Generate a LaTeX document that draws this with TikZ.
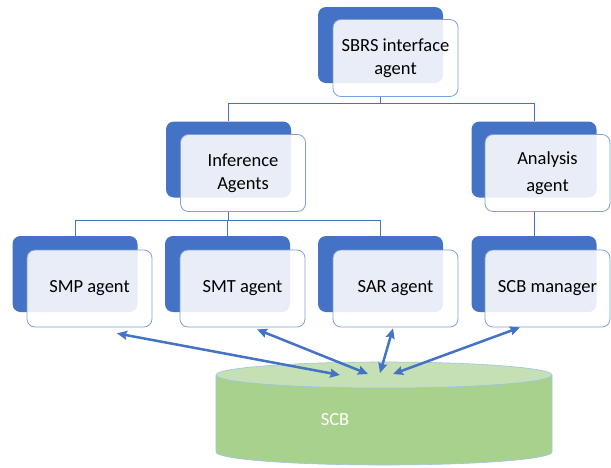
\documentclass[tikz,border=0pt]{standalone}
\usepackage{fontspec}
\setmainfont{Carlito}
\usetikzlibrary{arrows.meta,calc}
\definecolor{agentblue}{HTML}{4472C4}
\definecolor{frameblue}{HTML}{7F9FD6}
\definecolor{cylside}{HTML}{A9D18E}
\definecolor{cyltopc}{HTML}{C5E0B4}
\definecolor{cylline}{HTML}{9DC3E6}
\begin{document}
\begin{tikzpicture}[x=1pt,y=1pt,font=\fontsize{18.5}{23}\selectfont,line join=round,
    backbox/.style={rectangle,rounded corners=8pt,fill=agentblue,minimum width=125pt,minimum height=76pt,inner sep=0pt},
    frontbox/.style={rectangle,rounded corners=8pt,draw=frameblue,line width=0.8pt,fill=white,fill opacity=0.88,text opacity=1,minimum width=125pt,minimum height=77pt,inner sep=0pt,align=center},
    conn/.style={draw=agentblue,line width=0.8pt},
    link/.style={draw=agentblue,line width=2.5pt,{Stealth[length=10pt,width=9pt,inset=1.5pt]}-{Stealth[length=10pt,width=9pt,inset=1.5pt]}}]
  \useasboundingbox (0,0) rectangle (611,-467);
  % top level
  \node[backbox] (sbrsback) at (380.5,-45) {};
  \node[frontbox] (sbrs) at (395.5,-58) {SBRS interface\\agent};
  % second level
  \node[backbox] (infback) at (228.5,-159.5) {};
  \node[frontbox] (inf) at (243,-173) {Inference\\Agents};
  \node[backbox] (anaback) at (534,-159.5) {};
  \node[frontbox] (ana) at (547.5,-173) {Analysis\\[4pt]agent};
  % third level
  \node[backbox] (smpback) at (75,-274) {};
  \node[frontbox] (smp) at (89.5,-288.5) {SMP agent};
  \node[backbox] (smtback) at (227.5,-274) {};
  \node[frontbox] (smt) at (242.5,-288.5) {SMT agent};
  \node[backbox] (sarback) at (380.5,-274) {};
  \node[frontbox] (sar) at (395.5,-288.5) {SAR agent};
  \node[backbox] (mgrback) at (534,-274) {};
  \node[frontbox] (mgr) at (547.5,-288.5) {SCB manager};
  % tree lines
  \draw[conn] (sbrsback.center |- sbrs.south) -- ++(0,-6) coordinate (j1);
  \draw[conn] (j1) -| (infback.north);
  \draw[conn] (j1) -| (anaback.north);
  \draw[conn] (infback.center |- inf.south) -- ++(0,-8) coordinate (j2);
  \draw[conn] (j2) -| (smpback.north);
  \draw[conn] (j2) -| (smtback.north);
  \draw[conn] (j2) -| (sarback.north);
  \draw[conn] (anaback.center |- ana.south) -- (mgrback.north);
  % store
  \fill[cylside] (216,-375) -- (216,-452) arc[start angle=180,end angle=360,x radius=168pt,y radius=13pt] -- (552,-375) -- cycle;
  \draw[cylline,line width=0.6pt] (216,-375) -- (216,-452) arc[start angle=180,end angle=360,x radius=168pt,y radius=13pt] -- (552,-375);
  \filldraw[fill=cyltopc,draw=cylline,line width=0.6pt] (384,-375) ellipse [x radius=168pt,y radius=13pt];
  \coordinate (scbtop) at (384,-375);
  \node[text=white] (scb) at (335,-420) {SCB};
  % links
  \draw[link] ($(smp.south)+(27.5,-6)$) -- ($(scbtop)+(-44,0)$);
  \draw[link] ($(smt.south)+(14.5,-2)$) -- ($(scbtop)+(-16,1)$);
  \draw[link] ($(sar.south)+(-2.5,-1)$) -- ($(scbtop)+(-4,2)$);
  \draw[link] ($(mgr.south)+(-27.5,0)$) -- ($(scbtop)+(9,1)$);
\end{tikzpicture}
\end{document}
